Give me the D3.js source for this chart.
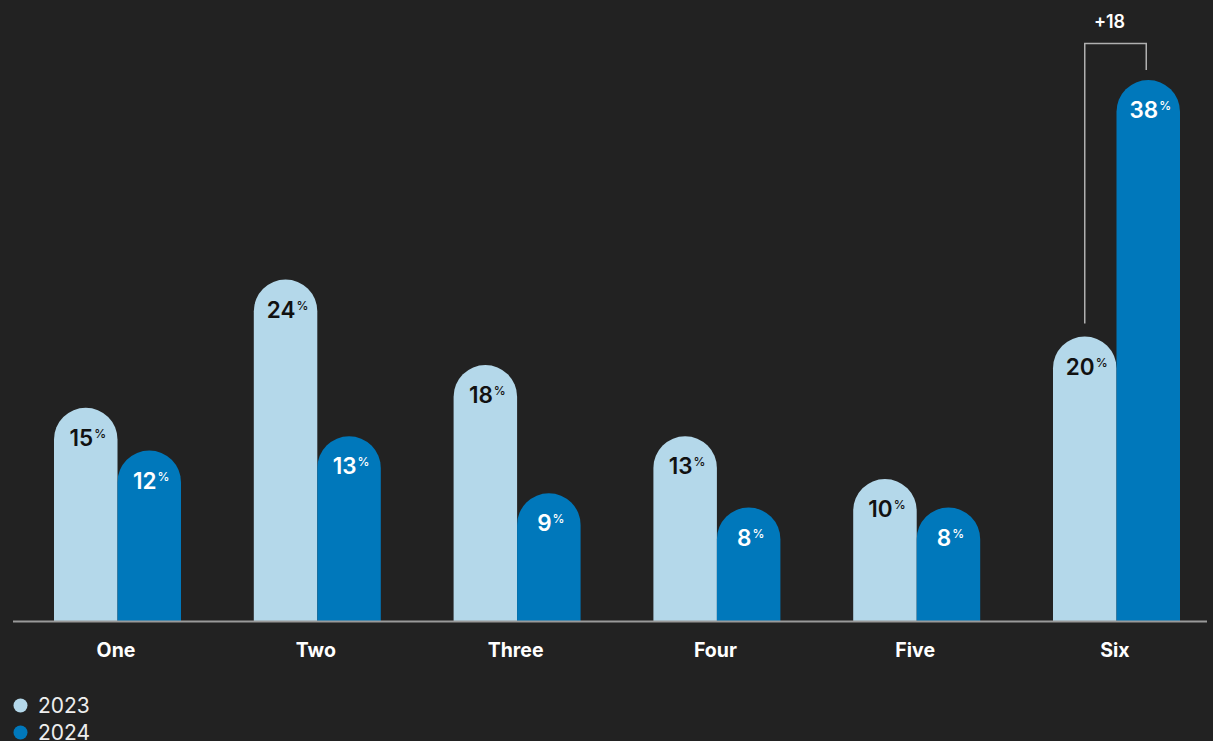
<!DOCTYPE html>
<html>
<head>
<meta charset="utf-8">
<script src="https://cdn.jsdelivr.net/npm/d3@7"></script>
<style>
  html, body { margin: 0; padding: 0; background: #222222; }
  svg { display: block; }
</style>
</head>
<body>
<svg id="chart" width="1213" height="741"></svg>
<script>
const categories = ["One", "Two", "Three", "Four", "Five", "Six"];
const seriesNames = ["2023", "2024"];
const values2023 = [15, 24, 18, 13, 10, 20];
const values2024 = [12, 13, 9, 8, 8, 38];
const colors = ["#b4d8ea", "#0078bb"];
const labelColors = ["#111111", "#ffffff"];
const annotationText = "+18";

const svg = d3.select("#chart");
const baseY = 621.5;

const x = d3.scalePoint().domain(categories).range([117.5, 1116.5]);
const barW = 63.5;
const y = d3.scaleLinear().domain([0, 38]).range([baseY, 80]);

const series = [values2023, values2024];

function roundTopPath(x0, w, yTop, yBottom) {
  const r = w / 2;
  return `M${x0},${yBottom} L${x0},${yTop + r} A${r},${r} 0 0 1 ${x0 + w},${yTop + r} L${x0 + w},${yBottom} Z`;
}

const g = svg.append("g");

series.forEach((vals, si) => {
  const grp = g.append("g");
  grp.selectAll("path")
    .data(categories.map((c, i) => ({ c, v: vals[i] })))
    .join("path")
    .attr("d", d => {
      const x0 = si === 0 ? x(d.c) - barW : x(d.c);
      return roundTopPath(x0, barW, y(d.v), baseY);
    })
    .attr("fill", colors[si]);

  const txt = grp.selectAll("text")
    .data(categories.map((c, i) => ({ c, v: vals[i] })))
    .join("text")
    .attr("x", d => (si === 0 ? x(d.c) - barW / 2 : x(d.c) + barW / 2) + 2)
    .attr("y", d => y(d.v) + 38)
    .attr("text-anchor", "middle")
    .attr("fill", labelColors[si])
    .style("font-family", "Inter, 'DejaVu Sans', sans-serif")
    .style("font-weight", 600)
    .style("font-size", "22.5px");
  txt.append("tspan").text(d => d.v);
  txt.append("tspan")
    .text("%")
    .attr("dx", 1)
    .attr("dy", -8)
    .style("font-size", "12px")
    .style("font-weight", 500);
});

// category axis
const xAxis = d3.axisBottom(x).tickSize(0).tickPadding(22);
const axG = svg.append("g").attr("transform", `translate(0,${baseY})`).call(xAxis);
axG.select(".domain").remove();
axG.selectAll("text")
  .attr("fill", "#ffffff")
  .attr("dx", -2)
  .style("font-family", "Inter, 'Liberation Sans', sans-serif")
  .style("font-weight", 700)
  .style("font-size", "19.5px");
svg.append("line")
  .attr("x1", 13).attr("x2", 1207)
  .attr("y1", baseY).attr("y2", baseY)
  .attr("stroke", "#9a9a9a").attr("stroke-width", 2);

// annotation bracket for Six
const cSix = categories[5];
const lx = x(cSix) - barW / 2;
const rx = x(cSix) + barW / 2 - 2;
const topY = 43.5;
svg.append("path")
  .attr("d", `M${lx},${y(values2023[5]) - 13} L${lx},${topY} L${rx},${topY} L${rx},${y(values2024[5]) - 10}`)
  .attr("fill", "none")
  .attr("stroke", "#b0b0b0")
  .attr("stroke-width", 1.5);
svg.append("text")
  .attr("x", (lx + rx) / 2 - 6)
  .attr("y", 28)
  .attr("text-anchor", "middle")
  .attr("fill", "#ffffff")
  .style("font-family", "Inter, 'DejaVu Sans', sans-serif")
  .style("font-weight", 600)
  .style("font-size", "18px")
  .text(annotationText);

// legend
const leg = svg.append("g");
seriesNames.forEach((s, i) => {
  const cy = 705.5 + i * 27;
  leg.append("circle").attr("cx", 20.5).attr("cy", cy).attr("r", 7).attr("fill", colors[i]);
  leg.append("text")
    .attr("x", 38).attr("y", cy + 7.5)
    .attr("fill", "#eeeeee")
    .style("font-family", "Inter, 'DejaVu Sans', sans-serif")
    .style("font-weight", 400)
    .style("font-size", "21px")
    .text(s);
});
</script>
</body>
</html>
